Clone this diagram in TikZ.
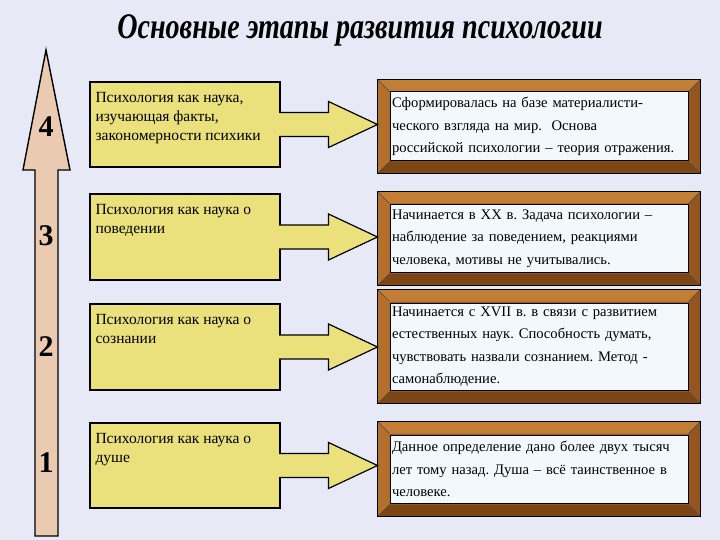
\documentclass[tikz,border=0pt]{standalone}
\usepackage{fontspec}
\setmainfont{Liberation Serif}
\usetikzlibrary{positioning,calc}

\definecolor{bgcol}{HTML}{E8E9F7}
\definecolor{stagecol}{HTML}{EAE17C}
\definecolor{shaftcol}{HTML}{EACBB2}
\definecolor{framecol}{HTML}{A2602A}
\definecolor{framelight}{HTML}{C27E34}
\definecolor{frameleft}{HTML}{B2702C}
\definecolor{framedark}{HTML}{7C4614}
\definecolor{frameright}{HTML}{94561E}
\definecolor{infocol}{HTML}{F2F8FC}

\frenchspacing

\begin{document}
\begin{tikzpicture}[
    x=1pt, y=-1pt,
    % --- styles ---
    % yellow stage boxes (left)
    stage box/.style={
        draw=black,
        line width=1.4pt,
        fill=stagecol,
        minimum width=190pt,
        inner sep=0pt
    },
    stage text/.style={
        anchor=north west,
        align=left,
        inner sep=0pt,
        font=\fontsize{15.5}{19}\selectfont
    },
    % arrow from stage box to frame
    stage arrow/.style={
        draw=black,
        line width=1.2pt,
        fill=stagecol,
        line join=miter
    },
    % brown frames (right)
    frame box/.style={
        draw=black,
        line width=1pt,
        fill=framecol,
        minimum width=322pt,
        inner sep=0pt
    },
    info box/.style={
        draw=black,
        line width=1pt,
        fill=infocol,
        minimum width=298pt,
        text width=294pt,
        align=left,
        inner xsep=2pt,
        inner ysep=0pt,
        font=\fontsize{14.6}{22.5}\selectfont
    },
    % numbers on the big arrow
    stage num/.style={
        font=\fontsize{30}{30}\selectfont\bfseries
    }
]

    % background and page size
    \fill[bgcol] (0,0) rectangle (720,540);
    \useasboundingbox (0,0) rectangle (720,540);

    % ====== title ======
    \node[font=\fontsize{36}{36}\selectfont\bfseries\itshape] (title) at (360,30) {\scalebox{0.78}[1]{Основные этапы развития психологии}};

    % ====== big arrow on the left ======
    \draw[fill=shaftcol, line width=1.4pt, line join=miter]
        (35,536) -- (35,170) -- (23,170) -- (46,50) -- (70,170) -- (58,170) -- (58,536) -- cycle;

    \node[stage num] (num4) at (46,127) {4};
    \node[stage num] (num3) at (46,236) {3};
    \node[stage num] (num2) at (46,347) {2};
    \node[stage num] (num1) at (46,463) {1};

    % ====== yellow stage boxes ======
    \node[stage box, minimum height=85pt] (stage4) at (185,124.5) {};
    \node[stage box, minimum height=86pt] (stage3) at (185,237) {};
    \node[stage box, minimum height=86pt] (stage2) at (185,347) {};
    \node[stage box, minimum height=85pt] (stage1) at (185,465.5) {};

    \node[stage text] (lbl4) at ($(stage4.north west)+(6,11)$) {Психология как наука,\\изучающая факты,\\закономерности психики};
    \node[stage text] (lbl3) at ($(stage3.north west)+(6,11)$) {Психология как наука о\\поведении};
    \node[stage text] (lbl2) at ($(stage2.north west)+(6,11)$) {Психология как наука о\\сознании};
    \node[stage text] (lbl1) at ($(stage1.north west)+(6,11)$) {Психология как наука о\\душе};

    % ====== brown frames ======
    \node[frame box, minimum height=93pt] (info4) at (539,126.5) {};
    \node[frame box, minimum height=93pt] (info3) at (539,238.5) {};
    \node[frame box, minimum height=113pt] (info2) at (539,346.5) {};
    \node[frame box, minimum height=94pt] (info1) at (539,469) {};

    % bevels of the frames
    \foreach \f in {info4,info3,info2,info1} {
        \fill[framelight] (\f.north west) -- (\f.north east) -- ($(\f.north east)+(-12,12)$) -- ($(\f.north west)+(12,12)$) -- cycle;
        \fill[frameleft] (\f.north west) -- ($(\f.north west)+(12,12)$) -- ($(\f.south west)+(12,-12)$) -- (\f.south west) -- cycle;
        \fill[framedark] (\f.south west) -- (\f.south east) -- ($(\f.south east)+(-12,-12)$) -- ($(\f.south west)+(12,-12)$) -- cycle;
        \fill[frameright] (\f.north east) -- ($(\f.north east)+(-12,12)$) -- ($(\f.south east)+(-12,-12)$) -- (\f.south east) -- cycle;
        \draw[black!70, line width=0.6pt] (\f.north west) -- ++(12,12) (\f.north east) -- ++(-12,12)
            (\f.south west) -- ++(12,-12) (\f.south east) -- ++(-12,-12);
        \draw[black, line width=1.2pt] (\f.north west) rectangle (\f.south east);
    }

    \node[info box, minimum height=69pt] (text4) at (info4.center) {Сформировалась на базе материалисти-\\ческого взгляда на мир.\ \ Основа\\российской психологии – теория отражения.};
    \node[info box, minimum height=68pt] (text3) at (info3.center) {Начинается в XX в. Задача психологии –\\наблюдение за поведением, реакциями\\человека, мотивы не учитывались.};
    \node[info box, minimum height=87pt] (text2) at (info2.center) {Начинается с XVII в. в связи с развитием\\естественных наук. Способность думать,\\чувствовать назвали сознанием. Метод -\\самонаблюдение.};
    \node[info box, minimum height=68pt] (text1) at (info1.center) {Данное определение дано более двух тысяч\\лет тому назад. Душа – всё таинственное в\\человеке.};

    % ====== arrows from stages to frames ======
    \foreach \i in {4,3,2,1} {
        \coordinate (tip\i) at (stage\i.east -| info\i.west);
        \draw[stage arrow] ($(stage\i.east)+(-1.5,-12)$) -- ($(tip\i)+(-49,-12)$) -- ($(tip\i)+(-49,-23)$)
            -- (tip\i) -- ($(tip\i)+(-49,23)$) -- ($(tip\i)+(-49,12)$) -- ($(stage\i.east)+(-1.5,12)$);
    }

\end{tikzpicture}
\end{document}
